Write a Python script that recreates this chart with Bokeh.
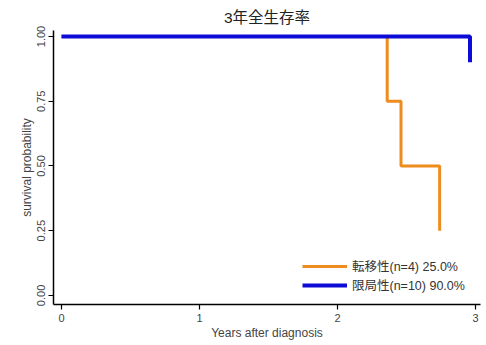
from bokeh.plotting import figure
from bokeh.models import Range1d, FixedTicker, PrintfTickFormatter, Legend, LegendItem
from bokeh.embed import file_html
from bokeh.resources import INLINE

title_text = "3年全生存率"
x_label = "Years after diagnosis"
y_label = "survival probability"

# Kaplan-Meier step data
meta_times = [0.0, 2.36, 2.46, 2.74]
meta_surv = [1.0, 0.75, 0.50, 0.25]
meta_label = "転移性(n=4) 25.0%"

local_times = [0.0, 2.96]
local_surv = [1.0, 0.90]
local_label = "限局性(n=10) 90.0%"

x_ticks = [0, 1, 2, 3]
y_ticks = [0.0, 0.25, 0.5, 0.75, 1.0]

FONT = "Liberation Sans, Noto Sans CJK JP"

p = figure(width=484, height=343, output_backend="svg", toolbar_location=None,
           x_range=Range1d(-0.058, 3.036), y_range=Range1d(-0.035, 1.023),
           min_border_left=53, min_border_right=4, min_border_top=30, min_border_bottom=39)
p.background_fill_color = "white"
p.border_fill_color = "white"
p.outline_line_color = None
p.xgrid.visible = False
p.ygrid.visible = False

p.title.text = title_text
p.title.align = "center"
p.title.text_font = FONT
p.title.text_font_size = "15.5px"
p.title.text_font_style = "normal"
p.title.text_color = "#222222"

r1 = p.step(meta_times, meta_surv, mode="after", line_color="#ee8c1e", line_width=3)
r2 = p.step(local_times, local_surv, mode="after", line_color="#0c0cd6", line_width=4)

for ax in (p.xaxis[0], p.yaxis[0]):
    ax.axis_line_color = "black"
    ax.axis_line_width = 1.5
    ax.major_tick_line_color = "black"
    ax.major_tick_line_width = 1.2
    ax.major_tick_out = 5
    ax.major_tick_in = 0
    ax.minor_tick_line_color = None
    ax.major_label_text_font = FONT
    ax.major_label_text_font_size = "11px"
    ax.major_label_text_color = "#444444"
    ax.axis_label_text_font = FONT
    ax.axis_label_text_font_size = "12px"
    ax.axis_label_text_font_style = "normal"
    ax.axis_label_text_color = "#444444"

p.xaxis.ticker = FixedTicker(ticks=x_ticks)
p.xaxis.axis_label = x_label
p.xaxis.major_label_standoff = 4
p.xaxis.axis_label_standoff = 1

p.yaxis.ticker = FixedTicker(ticks=y_ticks)
p.yaxis.formatter = PrintfTickFormatter(format="%.2f")
p.yaxis.major_label_orientation = "vertical"
p.yaxis.axis_label = y_label
p.yaxis.major_label_standoff = 3
p.yaxis.axis_label_standoff = 1

legend = Legend(items=[LegendItem(label=meta_label, renderers=[r1]),
                       LegendItem(label=local_label, renderers=[r2])],
                location=(249, 10), margin=0, padding=0, spacing=0,
                glyph_width=45, glyph_height=12, label_height=12, label_standoff=5,
                label_text_font=FONT, label_text_font_size="12.5px",
                label_text_color="#333333", border_line_color=None,
                background_fill_alpha=0)
p.add_layout(legend, "center")

open("out.html", "w").write(file_html(p, INLINE))
